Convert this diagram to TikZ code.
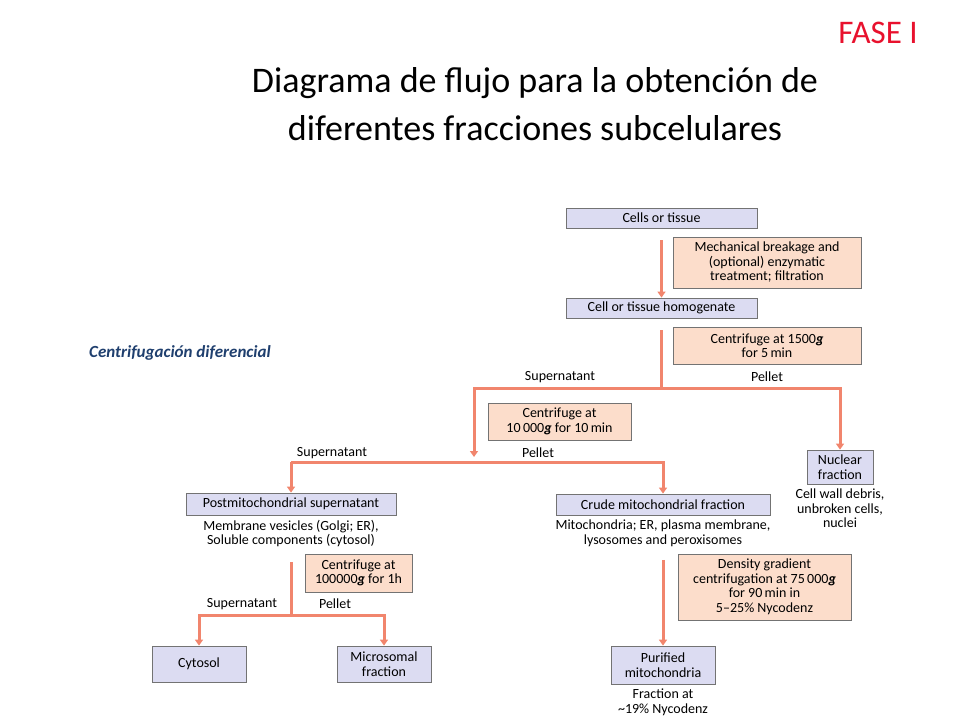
\documentclass[tikz,border=0pt]{standalone}
\usepackage{fontspec}
\setmainfont{Carlito}
\usetikzlibrary{positioning,calc,arrows.meta}
\definecolor{boxblue}{HTML}{DCDCF2}
\definecolor{boxpeach}{HTML}{FCDDCB}
\definecolor{flowred}{HTML}{EE6648}
\definecolor{titlered}{HTML}{E8112D}
\definecolor{subblue}{HTML}{1F3F6E}
\begin{document}
\begin{tikzpicture}[x=1pt,y=-1pt,
    fraction/.style={draw=black!55, fill=boxblue, line width=0.8pt, inner sep=0,
          font=\fontsize{14}{14.5}\selectfont, align=center},
    step box/.style={draw=black!55, fill=boxpeach, line width=0.8pt, inner sep=0,
          font=\fontsize{14}{14.5}\selectfont, align=center},
    note/.style={font=\fontsize{14}{14.5}\selectfont, align=center},
    flow/.style={flowred!80, line width=3pt},
    flowarr/.style={flow, -{Triangle[width=8pt,length=6pt]}}]
  \useasboundingbox (0,0) rectangle (960,720);
  % titles
  \node[text=titlered, font=\fontsize{33}{34}\selectfont] (fase) at (878,33) {FASE I};
  \node[font=\fontsize{36}{48}\selectfont, align=center] (title) at (535,104)
    {Diagrama de flujo para la obtención de\\diferentes fracciones subcelulares};
  \node[text=subblue, font=\fontsize{17}{18}\selectfont\bfseries\itshape] (metodo) at (180,353)
    {Centrifugación diferencial};
  % boxes
  \node[fraction, minimum width=191, minimum height=20] (cells) at (661.5,218) {Cells or tissue};
  \node[step box, minimum width=188, minimum height=51] (mech) at (767,262.5)
    {Mechanical breakage and\\(optional) enzymatic\\treatment; filtration};
  \node[fraction, minimum width=191, minimum height=20] (homog) at (661.5,308) {Cell or tissue homogenate};
  \node[step box, minimum width=188, minimum height=37] (cf1) at (767,345.5)
    {Centrifuge at 1500\textbf{\textit{g}}\\for 5\,min};
  \node[step box, minimum width=143, minimum height=37] (cf2) at (559.5,421.5)
    {Centrifuge at\\10\,000\textbf{\textit{g}} for 10\,min};
  \node[fraction, minimum width=66, minimum height=34] (nuclear) at (840,467) {Nuclear\\fraction};
  \node[note, below=1pt of nuclear] (nucnote) {Cell wall debris,\\unbroken cells,\\nuclei};
  \node[fraction, minimum width=210, minimum height=22] (postmit) at (291,504) {Postmitochondrial supernatant};
  \node[note, below=1pt of postmit] (postnote) {Membrane vesicles (Golgi; ER),\\Soluble components (cytosol)};
  \node[fraction, minimum width=214, minimum height=21] (crude) at (663,504.5) {Crude mitochondrial fraction};
  \node[note, below=1pt of crude] (crudenote) {Mitochondria; ER, plasma membrane,\\lysosomes and peroxisomes};
  \node[step box, minimum width=107, minimum height=38] (cf3) at (358.5,573)
    {Centrifuge at\\100000\textbf{\textit{g}} for 1h};
  \node[step box, minimum width=173, minimum height=66] (grad) at (764.5,587)
    {Density gradient\\centrifugation at 75\,000\textbf{\textit{g}}\\for 90\,min in\\5--25\% Nycodenz};
  \node[fraction, minimum width=94, minimum height=36] (cytosol) at (199,664) {Cytosol};
  \node[fraction, minimum width=94, minimum height=36] (micro) at (384,664) {Microsomal\\fraction};
  \node[fraction, minimum width=104, minimum height=38] (purif) at (663,665) {Purified\\mitochondria};
  \node[note, below=1pt of purif] (purnote) {Fraction at\\\textasciitilde19\% Nycodenz};
  % branch labels
  \node[note] (sup1) at (560,377) {Supernatant};
  \node[note] (pel1) at (767,377) {Pellet};
  \node[note] (sup2) at (332,453) {Supernatant};
  \node[note] (pel2) at (538,453) {Pellet};
  \node[note] (sup3) at (242,604) {Supernatant};
  \node[note] (pel3) at (335,604) {Pellet};
  % junctions
  \coordinate (j1) at (homog.south |- 0,388);
  \coordinate (j2) at (474,462);
  \coordinate (j3) at (291,615);
  % connectors
  \draw[flowarr] (cells.south) ++(0,12) -- (homog.north);
  \draw[flow] (homog.south) ++(0,12) -- (j1);
  \draw[flowarr] (j1) -| (474,457);
  \draw[flowarr] (j1) -| (nuclear.north);
  \draw[flow] (j2) -- (postmit.north |- j2);
  \draw[flowarr] (postmit.north |- j2) -- (postmit.north);
  \draw[flowarr] (j2) -| (crude.north);
  \draw[flow] (postnote.south) ++(0,12) -- (j3);
  \draw[flowarr] (j3) -| (cytosol.north);
  \draw[flowarr] (j3) -| (micro.north);
  \draw[flowarr] (crudenote.south) ++(0,10) -- (purif.north);
\end{tikzpicture}
\end{document}
